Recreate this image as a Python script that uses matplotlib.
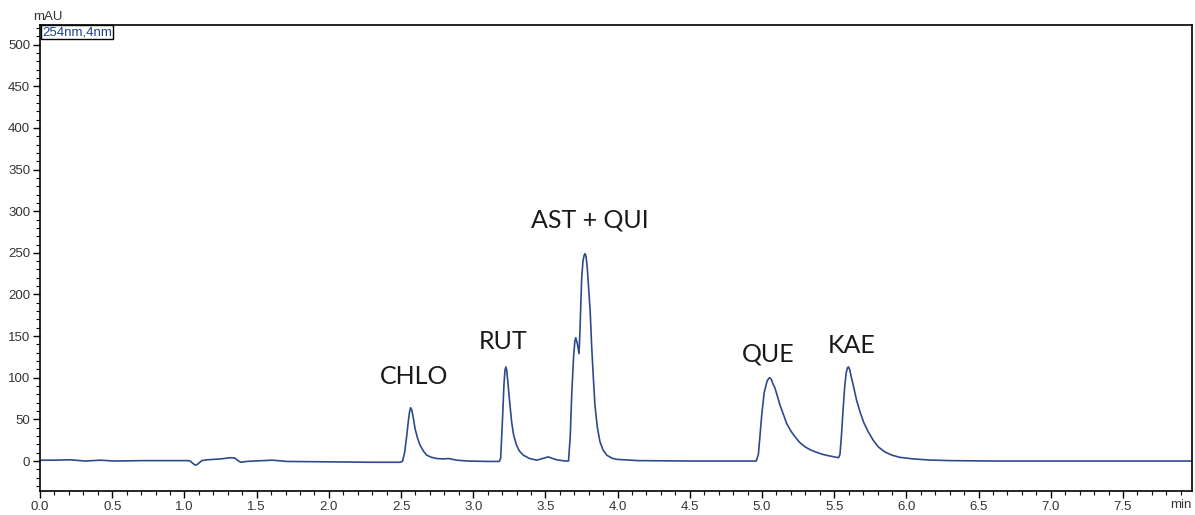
import matplotlib
matplotlib.use("Agg")
import matplotlib.pyplot as plt
from matplotlib.ticker import MultipleLocator

# Trace (254 nm): retention time (min) and signal (mAU)
time_min = [
    0.00, 0.10, 0.21, 0.31, 0.42, 0.51, 0.72, 0.92, 1.02, 1.04, 1.06, 1.075,
    1.09, 1.12, 1.16, 1.25, 1.32, 1.35, 1.37, 1.39, 1.43, 1.48, 1.61, 1.71,
    2.03, 2.30, 2.49, 2.51, 2.525, 2.54, 2.552, 2.56, 2.567, 2.575, 2.585,
    2.597, 2.615, 2.632, 2.655, 2.678, 2.71, 2.747, 2.79, 2.83, 2.886, 2.96,
    3.10, 3.18, 3.19, 3.204, 3.213, 3.22, 3.226, 3.232, 3.24, 3.248, 3.266,
    3.28, 3.30, 3.32, 3.347, 3.39, 3.44, 3.48, 3.52, 3.55, 3.578, 3.636,
    3.66, 3.672, 3.682, 3.695, 3.704, 3.71, 3.72, 3.733, 3.74, 3.751, 3.76,
    3.768, 3.774, 3.781, 3.79, 3.80, 3.81, 3.82, 3.832, 3.843, 3.86, 3.878,
    3.90, 3.925, 3.96, 3.994, 4.14, 4.50, 4.96, 4.975, 4.985, 4.998, 5.015,
    5.035, 5.048, 5.055, 5.065, 5.075, 5.09, 5.11, 5.125, 5.15, 5.171, 5.20,
    5.229, 5.26, 5.298, 5.34, 5.379, 5.42, 5.459, 5.50, 5.53, 5.54, 5.55,
    5.559, 5.572, 5.583, 5.592, 5.599, 5.607, 5.618, 5.632, 5.655, 5.679,
    5.705, 5.736, 5.77, 5.805, 5.85, 5.90, 5.955, 6.05, 6.16, 6.30, 6.60,
    7.00, 7.50, 7.98,
]
signal_mau = [
    1, 1, 1.5, 0, 1, 0, 0.5, 0.5, 0.5, 0, -3, -5,
    -4, 0.5, 1.5, 2.5, 4, 3.5, 0.5, -1.5, -0.5, 0, 1, -0.5,
    -1, -1.5, -1.5, -0.5, 10, 31, 50, 60, 64, 61, 52,
    39, 27, 19, 12, 7, 4.5, 3, 2.5, 3, 1, 0,
    -0.5, -0.5, 3, 55, 92, 109, 113, 109, 95, 79, 47,
    31, 19, 12, 7, 3, 1, 3, 5, 3, 1.5, 0,
    0, 30, 79, 125, 144, 148, 142, 129, 160, 219, 240,
    247, 249, 246, 232, 205, 180, 139, 100, 67, 40, 23,
    13, 7, 3.5, 2, 0.5, 0, 0, 8, 28, 55, 82,
    96, 99.5, 100, 98, 93, 87.6, 76, 67, 55, 45, 36,
    29, 22.5, 17, 13, 10.4, 8, 6.4, 5, 4, 8, 30,
    55, 88, 106, 112, 113, 110, 101, 91, 73, 59,
    46, 35, 25, 17, 11, 7, 4.4, 2.5, 1.2, 0.5, 0,
    0, 0, 0,
]

# Peak annotations: label, time, mAU (text centre)
peak_labels = ["CHLO", "RUT", "AST + QUI", "QUE", "KAE"]
peak_label_t = [2.59, 3.21, 3.81, 5.04, 5.62]
peak_label_y = [101, 144, 289, 129, 139]

LINE = "#2c4a8c"
TICK_FONT = ["Liberation Sans", "DejaVu Sans"]


def main():
    fig = plt.figure(figsize=(11.95, 5.15), dpi=100)
    ax = fig.add_axes([0.0335, 0.0466, 0.964, 0.905])

    ax.plot(time_min, signal_mau, color=LINE, lw=1.2)

    ax.set_xlim(0, 7.978)
    ax.set_ylim(-36, 523.7)
    ax.xaxis.set_minor_locator(MultipleLocator(0.1))
    ax.yaxis.set_minor_locator(MultipleLocator(10))
    ax.set_xticks([i * 0.5 for i in range(16)])
    ax.set_yticks([i * 50 for i in range(11)])
    ax.set_xticklabels([f"{i * 0.5:.1f}" for i in range(16)])
    ax.tick_params(which="major", length=5, width=1, pad=2, labelsize=9.5,
                   colors="black", labelcolor="#333333")
    ax.tick_params(which="minor", length=3, width=0.8)
    for lab in ax.get_xticklabels() + ax.get_yticklabels():
        lab.set_family(TICK_FONT)
    for sp in ax.spines.values():
        sp.set_linewidth(1.2)

    for name, t, y in zip(peak_labels, peak_label_t, peak_label_y):
        ax.text(t, y, name, ha="center", va="center", fontsize=18,
                family=["Lato", "DejaVu Sans"], color="#1a1a1a")

    fig.text(0.028, 0.967, "mAU", fontsize=9.5, family=TICK_FONT,
             color="#333333", ha="left", va="center")
    ax.text(0.002, 0.997, "254nm,4nm", transform=ax.transAxes, fontsize=9.5,
            family=TICK_FONT, color="#1f3f8f", ha="left", va="top",
            bbox=dict(boxstyle="square,pad=0.08", fc="white", ec="black", lw=1))
    fig.text(0.988, 0.019, "min", fontsize=9.5, family=TICK_FONT,
             color="#333333", ha="center", va="center")

    fig.savefig("out.png", dpi=100)
    plt.close(fig)


if __name__ == "__main__":
    main()
